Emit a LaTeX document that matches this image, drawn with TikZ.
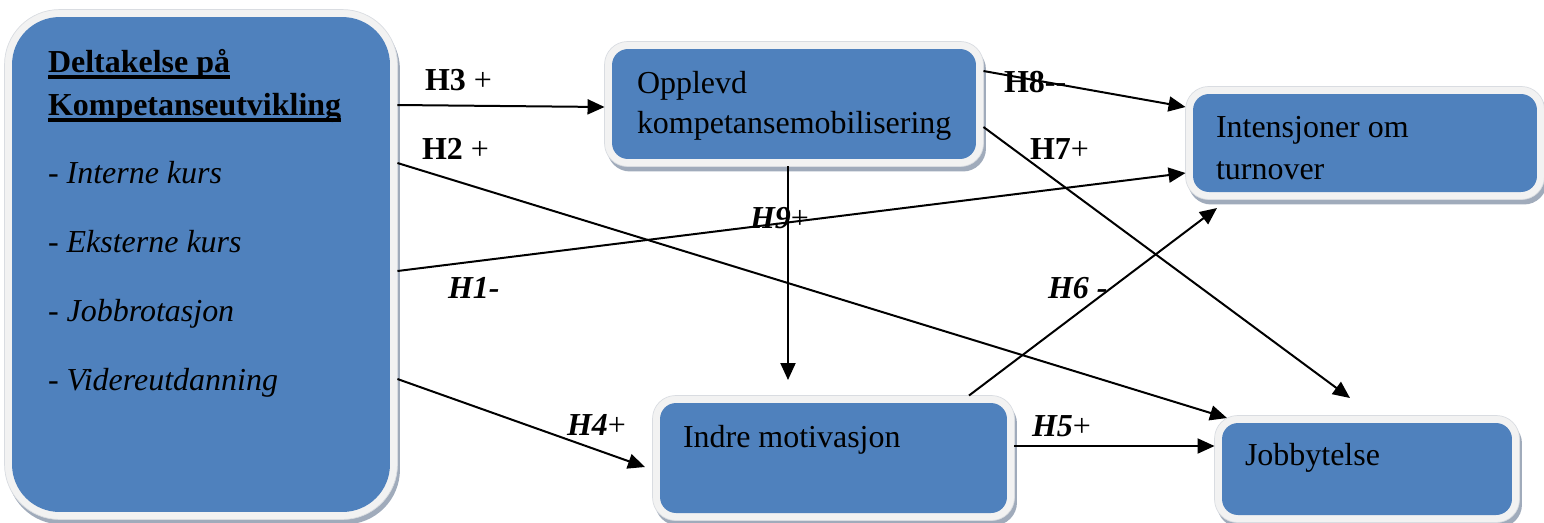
\documentclass[tikz,border=0pt]{standalone}
\usepackage{fontspec}
\setmainfont{Liberation Serif}
\usetikzlibrary{arrows.meta,shadows}

\definecolor{boxblue}{HTML}{4F81BD}
\definecolor{boxrim}{HTML}{F2F2F2}
\definecolor{rimline}{HTML}{D9DCE1}
\definecolor{boxshade}{HTML}{A0ABBB}

\newcommand\modelfont{\fontsize{18.2pt}{22pt}\selectfont}

% bold text with a heavy underline
\newsavebox\ulbox
\newcommand\ulbold[1]{\sbox\ulbox{\textbf{#1}}\rlap{\rule[-3.8pt]{\wd\ulbox}{1.9pt}}\usebox\ulbox}

\tikzset{
  % rounded panel: light rim, blue face, soft grey shadow
  panel/.style 2 args={rectangle, rounded corners=#1, fill=boxrim, draw=rimline,
    line width=0.4pt, inner sep=0pt, outer sep=0pt,
    drop shadow={shadow xshift=0.05cm, shadow yshift=-0.1cm, fill=boxshade, opacity=1},
    path picture={\fill[boxblue, rounded corners=#2]
      ([shift={(0.15cm,-0.15cm)}]path picture bounding box.north west) rectangle
      ([shift={(-0.15cm,0.15cm)}]path picture bounding box.south east);}},
  txt/.style={anchor=base west, inner sep=0pt, outer sep=0pt, font=\modelfont},
  arr/.style={line width=0.04cm, -{Triangle[length=0.34cm,width=0.3cm]}}
}

\begin{document}
\begin{tikzpicture}[x=0.02cm, y=-0.02cm]
\useasboundingbox (0,0) rectangle (1544,522);

% panels
\node[panel={1.1cm}{0.95cm}, minimum width=7.86cm, minimum height=10.2cm] (big) at (201,264.5) {};
\node[panel={0.46cm}{0.32cm}, minimum width=7.58cm, minimum height=2.5cm] (opp) at (794,104) {};
\node[panel={0.46cm}{0.32cm}, minimum width=7.18cm, minimum height=2.26cm] (int) at (1365,143) {};
\node[panel={0.46cm}{0.32cm}, minimum width=7.24cm, minimum height=2.5cm] (ind) at (833.5,458) {};
\node[panel={0.46cm}{0.32cm}, minimum width=6.1cm, minimum height=2.14cm] (job) at (1367,469) {};

% panel texts
\node[txt] (bigA) at (48,72) {\ulbold{Deltakelse på}};
\node[txt] (bigB) at (48,115) {\ulbold{Kompetanseutvikling}};
\node[txt] (bigC) at (48,183) {- \textit{Interne kurs}};
\node[txt] (bigD) at (48,252) {- \textit{Eksterne kurs}};
\node[txt] (bigE) at (48,321) {- \textit{Jobbrotasjon}};
\node[txt] (bigF) at (48,390) {- \textit{Videreutdanning}};
\node[txt] (oppA) at (637,93) {Opplevd};
\node[txt] (oppB) at (637,133) {kompetansemobilisering};
\node[txt] (intA) at (1216,137) {Intensjoner om};
\node[txt] (intB) at (1216,179) {turnover};
\node[txt] (indA) at (683,447) {Indre motivasjon};
\node[txt] (jobA) at (1245,465) {Jobbytelse};

% hypothesis labels
\node[txt] (lh3) at (425,90) {\textbf{H3} +};
\node[txt] (lh2) at (422,159) {\textbf{H2} +};
\node[txt] (lh1) at (448,298) {\textbf{\textit{H1-}}};
\node[txt] (lh4) at (567,435) {\textbf{\textit{H4}}+};
\node[txt] (lh5) at (1032,436) {\textbf{\textit{H5}}+};
\node[txt] (lh6) at (1048,298) {\textbf{\textit{H6 -}}};
\node[txt] (lh7) at (1030,159) {\textbf{H7}+};
\node[txt] (lh8) at (1004,92) {\textbf{H8{-}{-}}};
\node[txt] (lh9) at (750,228) {\textbf{\textit{H9}}+};

% free arrow ends
\coordinate (h2e) at (1227,418);
\coordinate (h4e) at (645,467);
\coordinate (h7e) at (1350,398);
\coordinate (h9e) at (788,380);
\coordinate (h6e) at (1217,208);

% connectors
\draw[arr] (big.east |- 0,105) -- (opp.west |- 0,107);
\draw[arr] (big.east |- 0,163) -- (h2e);
\draw[arr] (big.east |- 0,271) -- (int.west |- 0,173);
\draw[arr] (big.east |- 0,379) -- (h4e);
\draw[arr] (opp.east |- 0,71) -- (int.west |- 0,107);
\draw[arr] (opp.east |- 0,127) -- (h7e);
\draw[arr] (opp.south -| 788,0) -- (h9e);
\draw[arr] (ind.north -| 969,0) -- (h6e);
\draw[arr] (ind.east |- 0,446) -- (job.west |- 0,446);
\end{tikzpicture}
\end{document}
